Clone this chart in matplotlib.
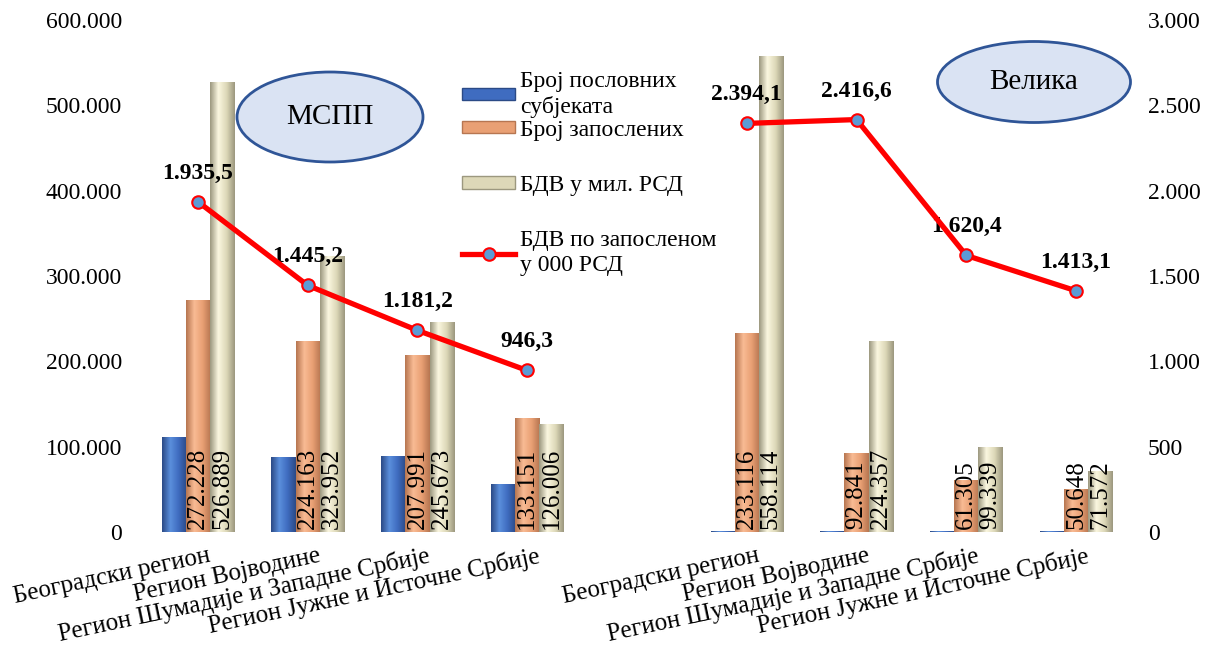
import numpy as np
import matplotlib
matplotlib.use("Agg")
import matplotlib.pyplot as plt
from matplotlib.patches import Ellipse, Patch
from matplotlib.lines import Line2D
from matplotlib.colors import LinearSegmentedColormap
from matplotlib.ticker import FuncFormatter
from matplotlib.transforms import ScaledTranslation

plt.rcParams['font.family'] = ['Liberation Serif', 'DejaVu Serif']

regioni = ['Београдски регион', 'Регион Војводине',
           'Регион Шумадије и Западне Србије', 'Регион Јужне и Источне Србије']
# МСПП, празно место, Велика
kategorije = regioni + [''] + regioni

subjekti = [111300, 87900, 89100, 56200, 0, 240, 130, 90, 70]
zaposleni = [272228, 224163, 207991, 133151, 0, 233116, 92841, 61305, 50648]
bdv = [526889, 323952, 245673, 126006, 0, 558114, 224357, 99339, 71572]
bdv_po_zap = [1935.5, 1445.2, 1181.2, 946.3, np.nan, 2394.1, 2416.6, 1620.4, 1413.1]

serije = ['Број пословних\nсубјеката', 'Број запослених', 'БДВ у мил. РСД']
linija_naziv = 'БДВ по запосленом\nу 000 РСД'

# boje: tamna ivica, svetla sredina, srednja
boje = [('#2b4a86', '#5b8fdc', '#3f6cc0'),
        ('#b77651', '#f9bb94', '#e9a074'),
        ('#9c987f', '#fbf7e0', '#ddd8b8')]


def srpski_broj(v):
    return f"{int(round(v)):,}".replace(',', '.')


def srpski_dec(v):
    s = f"{v:,.1f}"
    return s.replace(',', 'X').replace('.', ',').replace('X', '.')


def gradient_bar(ax, x, h, w, dark, light, mid):
    cmap = LinearSegmentedColormap.from_list('g', [dark, light, mid, dark])
    bar = ax.bar(x, h, w, color=mid, linewidth=0, zorder=2)[0]
    grad = np.linspace(0, 1, 64).reshape(1, -1)
    im = ax.imshow(grad, cmap=cmap, extent=[x - w / 2, x + w / 2, 0, h],
                   aspect='auto', zorder=2, interpolation='bilinear')
    im.set_clip_path(bar)


fig = plt.figure(figsize=(12.13, 6.64), dpi=100)
ax = fig.add_axes([143 / 1213, 132 / 664, 988 / 1213, 512 / 664])
ax2 = ax.twinx()

x = np.arange(len(kategorije))
w = 0.22
for i, vrednosti in enumerate([subjekti, zaposleni, bdv]):
    dark, light, mid = boje[i]
    for xi, v in zip(x, vrednosti):
        if v > 0:
            gradient_bar(ax, xi + (i - 1) * w, max(v, 1200), w, dark, light, mid)

# oznake u stupcima
for i, vrednosti in [(1, zaposleni), (2, bdv)]:
    for xi, v in zip(x, vrednosti):
        if v > 0:
            ax.text(xi + (i - 1) * w, 4000, srpski_broj(v), rotation=90,
                    ha='center', va='bottom', fontsize=18, zorder=5)

ax.set_xlim(-0.5, len(kategorije) - 0.5)
ax.set_ylim(0, 600000)
ax.set_yticks(np.arange(0, 600001, 100000))
ax.yaxis.set_major_formatter(FuncFormatter(lambda v, p: srpski_broj(v)))
ax.set_xticks(x)
ax.set_xticklabels(kategorije, rotation=12, ha='right', va='top',
                   rotation_mode='anchor', fontsize=18)
ax.tick_params(axis='y', length=0, labelsize=17, pad=15)
ax.tick_params(axis='x', length=0, pad=9)
pomak = ScaledTranslation(0.1, 0, fig.dpi_scale_trans)
for lbl in ax.get_xticklabels():
    lbl.set_transform(lbl.get_transform() + pomak)

ax2.plot(x, bdv_po_zap, color='#ff0000', lw=3.8, marker='o', markersize=9,
         markerfacecolor='#5b9bd5', markeredgecolor='#ff0000',
         markeredgewidth=1.5, zorder=4)
for xi, v in zip(x, bdv_po_zap):
    if not np.isnan(v):
        ax2.annotate(srpski_dec(v), (xi, v), xytext=(0, 13),
                     textcoords='offset points', ha='center', va='bottom',
                     fontsize=17, fontweight='bold')
ax2.set_ylim(0, 3000)
ax2.set_yticks(np.arange(0, 3001, 500))
ax2.yaxis.set_major_formatter(FuncFormatter(lambda v, p: srpski_broj(v)))
ax2.tick_params(axis='y', length=0, labelsize=17, pad=12)

for a in (ax, ax2):
    for s in a.spines.values():
        s.set_visible(False)

# legenda (dva dela zbog nejednakog razmaka)
ruke = [Patch(facecolor=b[2], edgecolor=b[0], linewidth=1) for b in boje]
ruka_linija = Line2D([], [], color='#ff0000', lw=3.8, marker='o', markersize=9,
                     markerfacecolor='#5b9bd5', markeredgecolor='#ff0000',
                     markeredgewidth=1.5)
opcije = dict(loc='upper left', frameon=False, fontsize=17, handlelength=2.25,
              handleheight=0.45, handletextpad=0.2)
fig.legend(ruke[:2], serije[:2], bbox_to_anchor=(441 / 1213, 1 - 50 / 664),
           labelspacing=0.08, **opcije)
fig.legend([ruke[2], ruka_linija], [serije[2], linija_naziv],
           bbox_to_anchor=(441 / 1213, 1 - 154 / 664), labelspacing=1.45,
           **opcije)

# elipse sa nazivima
for cx, cy, ew, eh, tekst in [(330, 117, 186, 90, 'МСПП'),
                              (1034, 82, 193, 81, 'Велика')]:
    e = Ellipse((cx / 1213, 1 - cy / 664), ew / 1213, eh / 664,
                transform=fig.transFigure, facecolor='#dae3f3',
                edgecolor='#2f5597', linewidth=2, clip_on=False, zorder=6)
    ax2.add_patch(e)
    fig.text(cx / 1213, 1 - cy / 664, tekst, ha='center', va='center',
             fontsize=21, zorder=7)

fig.savefig('out.png', dpi=100)
